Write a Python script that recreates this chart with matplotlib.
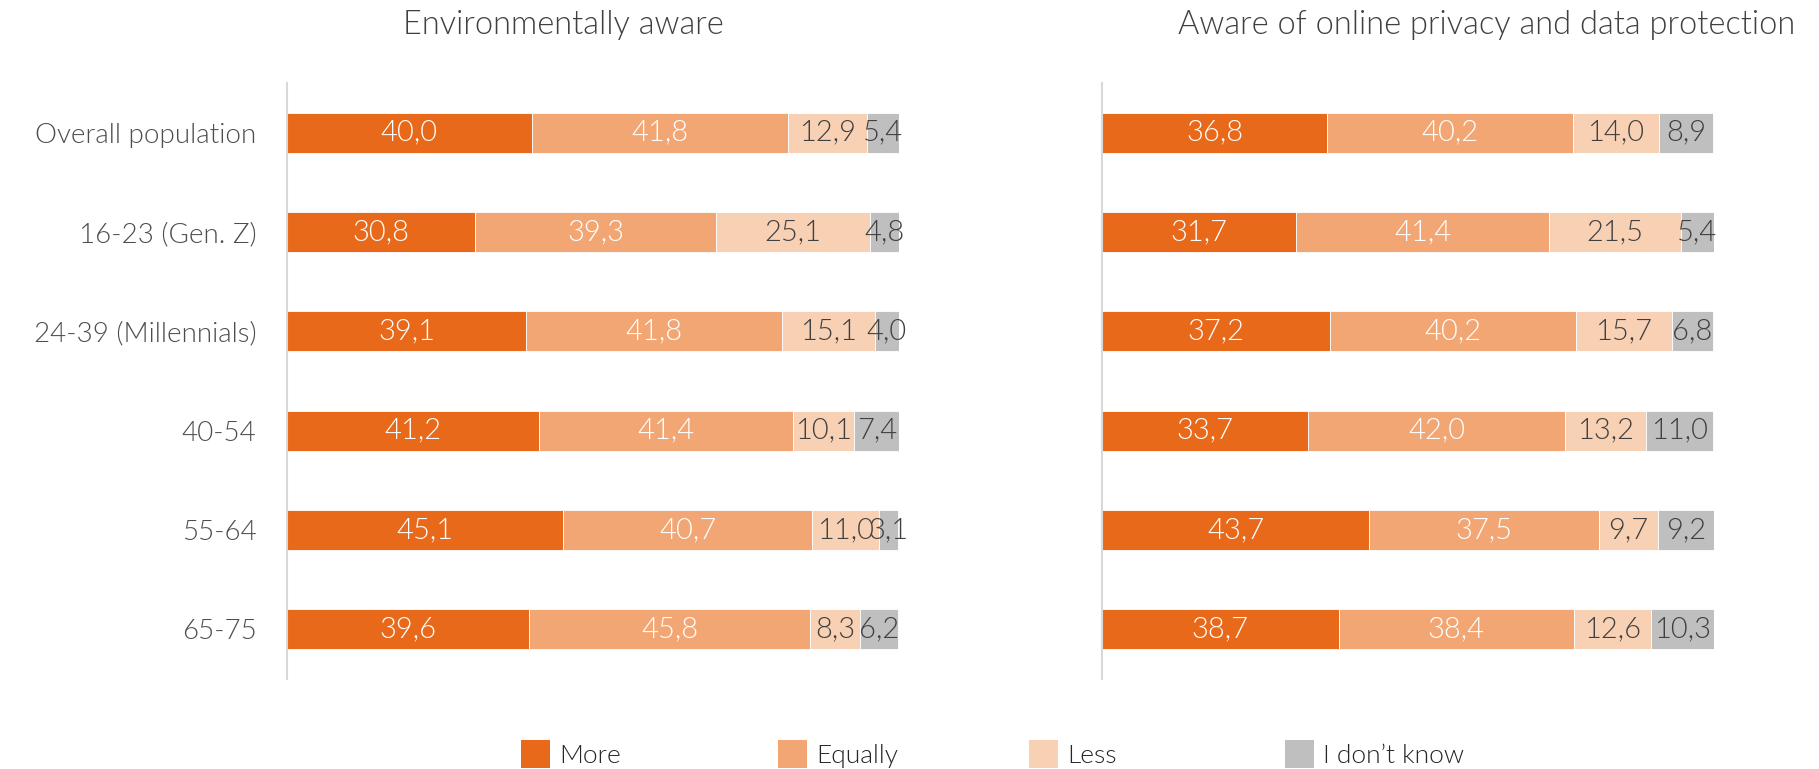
import matplotlib
matplotlib.use("Agg")
import matplotlib.pyplot as plt
from matplotlib.patches import Patch

plt.rcParams['font.family'] = ['Lato', 'DejaVu Sans']
plt.rcParams['font.weight'] = 300

categories = ["Overall population", "16-23 (Gen. Z)", "24-39 (Millennials)",
              "40-54", "55-64", "65-75"]
series = ["More", "Equally", "Less", "I don\u2019t know"]
colors = ["#E8691A", "#F2A673", "#F8D0B4", "#BFBFBF"]
label_colors = ["white", "white", "#404040", "#404040"]

env_more = [40.0, 30.8, 39.1, 41.2, 45.1, 39.6]
env_equally = [41.8, 39.3, 41.8, 41.4, 40.7, 45.8]
env_less = [12.9, 25.1, 15.1, 10.1, 11.0, 8.3]
env_dk = [5.4, 4.8, 4.0, 7.4, 3.1, 6.2]

priv_more = [36.8, 31.7, 37.2, 33.7, 43.7, 38.7]
priv_equally = [40.2, 41.4, 40.2, 42.0, 37.5, 38.4]
priv_less = [14.0, 21.5, 15.7, 13.2, 9.7, 12.6]
priv_dk = [8.9, 5.4, 6.8, 11.0, 9.2, 10.3]

titles = ["Environmentally aware", "Aware of online privacy and data protection"]

W, H = 1819, 769
fig = plt.figure(figsize=(W / 100, H / 100), dpi=100)

ax_bottom = (H - 679) / H
ax_height = 596 / H
ax_width = 612 / W
axes = [fig.add_axes([287 / W, ax_bottom, ax_width, ax_height]),
        fig.add_axes([1102 / W, ax_bottom, ax_width, ax_height])]

panels = [[env_more, env_equally, env_less, env_dk],
          [priv_more, priv_equally, priv_less, priv_dk]]

ypos = list(range(len(categories)))
for ax, data, show_labels in zip(axes, panels, [True, False]):
    left = [0.0] * len(categories)
    for vals, col, lcol in zip(data, colors, label_colors):
        bars = ax.barh(ypos, vals, left=left, height=0.4, color=col,
                       edgecolor="white", linewidth=0.6)
        for b, v in zip(bars, vals):
            ax.text(b.get_x() + b.get_width() / 2, b.get_y() + b.get_height() / 2,
                    f"{v:.1f}".replace(".", ","), ha="center", va="center",
                    color=lcol, fontsize=21, fontweight=300)
        left = [l + v for l, v in zip(left, vals)]
    ax.set_xlim(0, 100)
    ax.set_ylim(5.5, -0.5)
    for s in ["top", "right", "bottom"]:
        ax.spines[s].set_visible(False)
    ax.spines["left"].set_color("#D9D9D9")
    ax.spines["left"].set_linewidth(1.5)
    ax.set_xticks([])
    ax.tick_params(axis="y", length=0, pad=22)
    ax.set_yticks(ypos)
    if show_labels:
        ax.set_yticklabels(categories, fontsize=20, color="#4D4D4D",
                           fontweight=300)
    else:
        ax.set_yticklabels([])

for x, t in zip([563, 1487], titles):
    fig.text(x / W, 1 - 25 / H, t, ha="center", va="center",
             fontsize=23.5, color="#404040", fontweight=300)

# legend entries at fixed column starts
leg_x = [521, 778, 1029, 1285]
for x, lab, c in zip(leg_x, series, colors):
    leg = fig.legend([Patch(facecolor=c, edgecolor="none")], [lab],
                     loc="center left", bbox_to_anchor=(x / W, 1 - 754 / H),
                     frameon=False, fontsize=19, handlelength=1.1,
                     handleheight=1.3, handletextpad=0.35, borderpad=0,
                     borderaxespad=0)
    for t in leg.get_texts():
        t.set_color("#262626")
        t.set_fontweight(300)

fig.savefig("out.png", dpi=100)
